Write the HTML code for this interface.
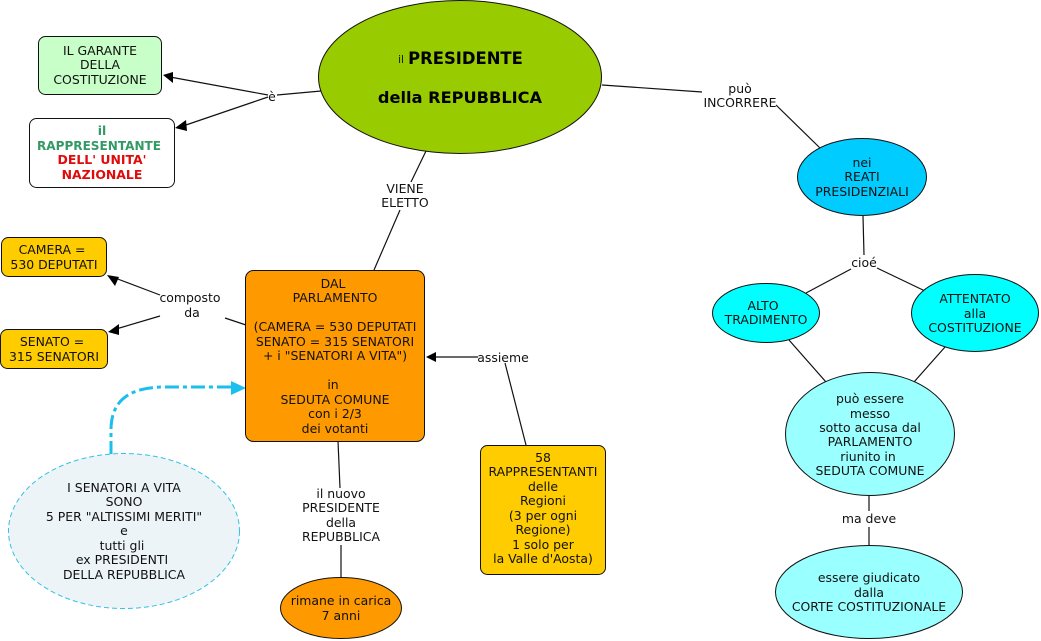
<!DOCTYPE html>
<html><head><meta charset="utf-8">
<style>
html,body{margin:0;padding:0;background:#fff;width:1041px;height:641px;overflow:hidden}
svg{display:block}
text{font-family:"DejaVu Sans","Liberation Sans",sans-serif;font-size:12.45px;text-anchor:middle;fill:#111}
.b{font-weight:bold}
.l{stroke:#111;stroke-width:1.2;fill:none}
.n{stroke:#111;stroke-width:1}
</style></head><body>
<svg width="1041" height="641" viewBox="0 0 1041 641" xmlns="http://www.w3.org/2000/svg">
<!-- connectors -->
<path class="l" d="M321 91L277 95M268 95L170 77M268 97L183 126"/>
<polygon points="163,75 173,83 173,72" fill="#000"/>
<polygon points="175,128 186,120 187,131" fill="#000"/>
<path class="l" d="M602 85L702 92M776 105L820 148"/>
<path class="l" d="M426 151L411 182M400 210L374 270"/>
<path class="l" d="M863 216L864 255M851 269L806 293M877 268L925 291"/>
<path class="l" d="M789 340L826 382M945 347L914 382"/>
<path class="l" d="M869 496V511M869 527V545"/>
<path class="l" d="M160 295L115 278M160 316L116 329M225 318L246 325"/>
<polygon points="107,275 119,277 115,286" fill="#000"/>
<polygon points="108,332 119,324 119,335" fill="#000"/>
<path class="l" d="M434 357H478M505 363L526 445"/>
<polygon points="426,357 436,352 436,362" fill="#000"/>
<path class="l" d="M338 441L340 488M341 545V578"/>
<path d="M111 455V430C111 400 130 387 165 387H233" fill="none" stroke="#1bbfee" stroke-width="3" stroke-dasharray="14 4 4 4"/>
<polygon points="246,388 231,381 231,395" fill="#1bbfee"/>
<!-- nodes -->
<rect class="n" x="38.500" y="36.500" width="123" height="58" rx="7" fill="#c8ffc8"/>
<rect class="n" x="29.500" y="118.500" width="145" height="69" rx="7" fill="#fff"/>
<ellipse class="n" cx="460" cy="77" rx="141.500" ry="76.500" fill="#99cc00"/>
<ellipse class="n" cx="862" cy="177" rx="64.500" ry="38.500" fill="#00ccff"/>
<ellipse class="n" cx="766" cy="313" rx="53.500" ry="29.500" fill="#00ffff"/>
<ellipse class="n" cx="975" cy="313" rx="63.500" ry="38.500" fill="#00ffff"/>
<ellipse class="n" cx="870" cy="434" rx="84.500" ry="61.500" fill="#99ffff"/>
<ellipse class="n" cx="869" cy="592" rx="93.500" ry="46.500" fill="#99ffff"/>
<rect class="n" x="1.500" y="237.500" width="105" height="39" rx="7" fill="#ffcc00"/>
<rect class="n" x="0.500" y="329.500" width="107" height="39" rx="7" fill="#ffcc00"/>
<rect class="n" x="245.500" y="270.500" width="179" height="171" rx="8" fill="#ff9900"/>
<rect class="n" x="480.500" y="445.500" width="125" height="129" rx="7" fill="#ffcc00"/>
<ellipse cx="124" cy="531" rx="115.500" ry="77.500" fill="#edf4f7" stroke="#35c0e6" stroke-width="1" stroke-dasharray="5 3"/>
<ellipse class="n" cx="341" cy="608" rx="60.500" ry="30.500" fill="#ff9900"/>
<!-- text -->
<text x="100" y="55">IL GARANTE</text><text x="100" y="69">DELLA</text><text x="100" y="84">COSTITUZIONE</text>
<text class="b" x="102" y="135" style="fill:#339966">il</text><text class="b" x="99" y="150" style="fill:#339966" textLength="124" lengthAdjust="spacingAndGlyphs">RAPPRESENTANTE</text>
<text class="b" x="102" y="164" style="fill:#e00b0b">DELL' UNITA'</text><text class="b" x="102" y="179" style="fill:#e00b0b">NAZIONALE</text>
<text x="272" y="101">è</text>
<text x="401" y="63" style="font-size:10.500px">il</text>
<text class="b" x="465.500" y="64" style="font-size:16.400px;fill:#000">PRESIDENTE</text>
<text class="b" x="460" y="103" style="font-size:16.200px;fill:#000">della REPUBBLICA</text>
<text x="740" y="93">può</text><text x="740" y="107">INCORRERE</text>
<text x="405" y="193">VIENE</text><text x="405" y="207">ELETTO</text>
<text x="862" y="167">nei</text><text x="862" y="181">REATI</text><text x="862" y="196">PRESIDENZIALI</text>
<text x="864" y="267">cioé</text>
<text x="763" y="310">ALTO</text><text x="766" y="324">TRADIMENTO</text>
<text x="975" y="303">ATTENTATO</text><text x="975" y="318">alla</text><text x="975" y="332">COSTITUZIONE</text>
<text x="870" y="403">può essere</text><text x="870" y="418">messo</text><text x="870" y="432">sotto accusa dal</text><text x="870" y="446">PARLAMENTO</text><text x="868" y="461">riunito in</text><text x="870" y="475">SEDUTA COMUNE</text>
<text x="869" y="523">ma deve</text>
<text x="869" y="582">essere giudicato</text><text x="869" y="597">dalla</text><text x="869" y="611">CORTE COSTITUZIONALE</text>
<text x="52" y="254">CAMERA =</text><text x="54" y="269">530 DEPUTATI</text>
<text x="52" y="346">SENATO =</text><text x="54" y="361">315 SENATORI</text>
<text x="190" y="302">composto</text><text x="192" y="317">da</text>
<text x="333" y="288">DAL</text><text x="335" y="302">PARLAMENTO</text>
<text x="335" y="331">(CAMERA = 530 DEPUTATI</text><text x="335" y="346">SENATO = 315 SENATORI</text><text x="335" y="360">+ i "SENATORI A VITA")</text>
<text x="333" y="389">in</text><text x="335" y="404">SEDUTA COMUNE</text><text x="335" y="418">con i 2/3</text><text x="335" y="433">dei votanti</text>
<text x="503" y="362">assieme</text>
<text x="543" y="462">58</text><text x="543" y="476">RAPPRESENTANTI</text><text x="543" y="491">delle</text><text x="543" y="505">Regioni</text><text x="543" y="520">(3 per ogni</text><text x="543" y="534">Regione)</text><text x="543" y="549">1 solo per</text><text x="543" y="563">la Valle d'Aosta)</text>
<text x="124" y="492">I SENATORI A VITA</text><text x="124" y="506">SONO</text><text x="124" y="521">5 PER "ALTISSIMI MERITI"</text><text x="124" y="535">e</text><text x="122" y="550">tutti gli</text><text x="122" y="564">ex PRESIDENTI</text><text x="124" y="579">DELLA REPUBBLICA</text>
<text x="341" y="498">il nuovo</text><text x="341" y="512">PRESIDENTE</text><text x="341" y="527">della</text><text x="341" y="541">REPUBBLICA</text>
<text x="341" y="605">rimane in carica</text><text x="341" y="620">7 anni</text>
</svg>
</body></html>
